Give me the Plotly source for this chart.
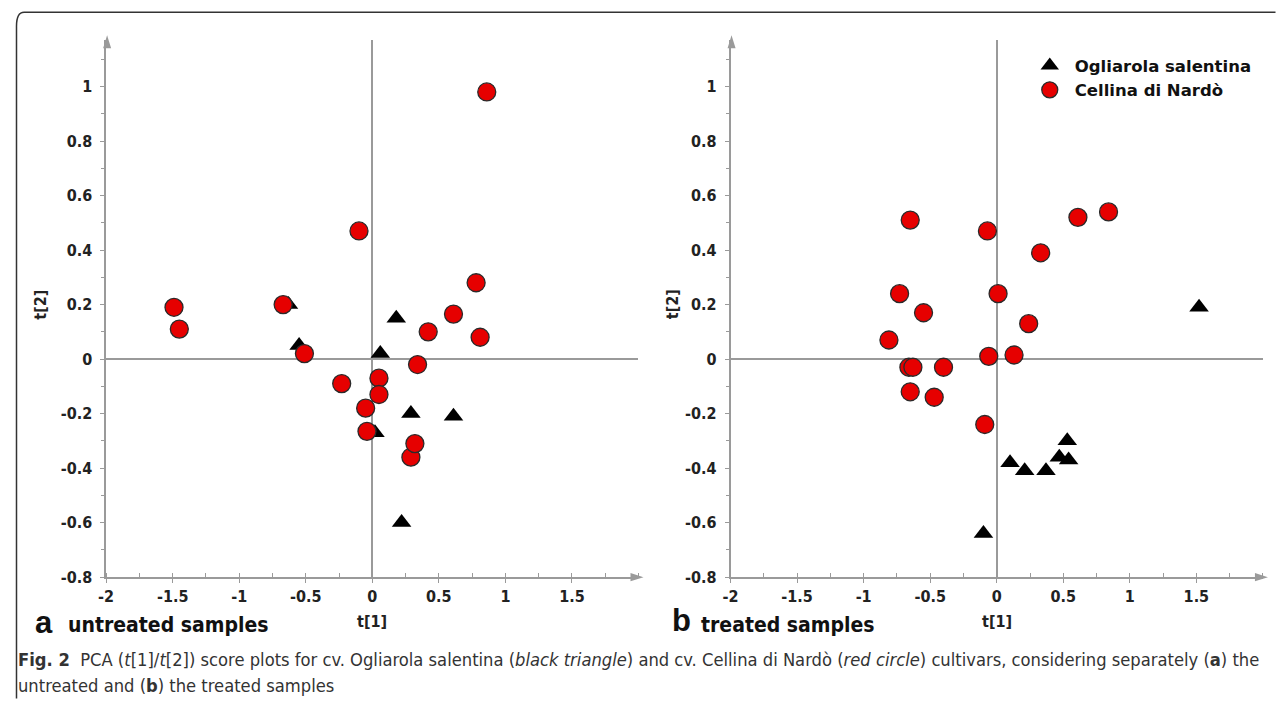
import plotly.graph_objects as go

# ---------------- data ----------------
untreated_ogl_x = [-0.55, -0.63, 0.18, 0.06, 0.02, 0.29, 0.61, 0.22]
untreated_ogl_y = [0.05, 0.20, 0.15, 0.02, -0.27, -0.20, -0.21, -0.60]
untreated_cel_x = [-1.49, -1.45, -0.67, -0.51, -0.23, -0.10, -0.05, -0.04, 0.05, 0.05,
                   0.29, 0.32, 0.34, 0.42, 0.61, 0.78, 0.81, 0.86]
untreated_cel_y = [0.19, 0.11, 0.20, 0.02, -0.09, 0.47, -0.18, -0.265, -0.07, -0.13,
                   -0.36, -0.31, -0.02, 0.10, 0.165, 0.28, 0.08, 0.98]

treated_ogl_x = [1.52, 0.10, 0.21, 0.37, 0.47, 0.54, 0.53, -0.10]
treated_ogl_y = [0.19, -0.38, -0.41, -0.41, -0.36, -0.37, -0.30, -0.64]
treated_cel_x = [-0.65, -0.07, 0.61, 0.84, 0.33, -0.73, 0.01, -0.55, 0.24, -0.81,
                 -0.06, 0.13, -0.66, -0.63, -0.40, -0.65, -0.47, -0.09]
treated_cel_y = [0.51, 0.47, 0.52, 0.54, 0.39, 0.24, 0.24, 0.17, 0.13, 0.07,
                 0.01, 0.015, -0.03, -0.03, -0.03, -0.12, -0.14, -0.24]

x_ticks = [-2, -1.5, -1, -0.5, 0, 0.5, 1, 1.5]
x_labels = ["-2", "-1.5", "-1", "-0.5", "0", "0.5", "1", "1.5"]
y_ticks = [-0.8, -0.6, -0.4, -0.2, 0, 0.2, 0.4, 0.6, 0.8, 1]
y_labels = ["-0.8", "-0.6", "-0.4", "-0.2", "0", "0.2", "0.4", "0.6", "0.8", "1"]

series_names = ["Ogliarola salentina", "Cellina di Nardò"]

# ---------------- style ----------------
OFF = 8                     # default page body margin
W, H = 1268, 701
SX, SY = 0.993, 0.984       # observed screenshot scaling
COND = "DejaVu Sans Condensed, Liberation Sans Narrow, sans-serif"
AX_GREY = "#9a9a9a"
RED = "#e60000"


def px(x, y):
    """target screen pixel -> paper coordinate (clamped inside the figure)"""
    fx = (x - 8) / SX - OFF
    fy = y / SY - OFF
    fx = min(max(fx, 0.5), W - 0.5)
    fy = min(max(fy, 0.5), H - 0.5)
    return fx / W, 1 - fy / H


fig = go.Figure()

panels = [
    ("x", "y", untreated_ogl_x, untreated_ogl_y, untreated_cel_x, untreated_cel_y, False),
    ("x2", "y2", treated_ogl_x, treated_ogl_y, treated_cel_x, treated_cel_y, True),
]
for xa, ya, ox, oy, cx, cy, show in panels:
    fig.add_trace(go.Scatter(
        x=ox, y=oy, mode="markers", name=series_names[0], xaxis=xa, yaxis=ya,
        legendgroup="o", showlegend=show,
        marker=dict(symbol="triangle-up", size=17, color="black", line=dict(width=0)),
    ))
    fig.add_trace(go.Scatter(
        x=cx, y=cy, mode="markers", name=series_names[1], xaxis=xa, yaxis=ya,
        legendgroup="c", showlegend=show,
        marker=dict(symbol="circle", size=18, color=RED, line=dict(width=1.3, color="#2a2a2a")),
    ))

tickfont = dict(family=COND, size=16, color="#222", weight="bold")
x_common = dict(
    range=[-2, 2], tickvals=x_ticks, ticktext=x_labels, showgrid=False,
    zeroline=True, zerolinecolor=AX_GREY, zerolinewidth=1.5,
    showline=True, linecolor=AX_GREY, linewidth=1.5,
    ticks="outside", ticklen=4, tickcolor=AX_GREY, tickwidth=1,
    minor=dict(dtick=0.25, tick0=0, ticks="inside", ticklen=4, tickcolor=AX_GREY),
    tickfont=tickfont, ticklabelstandoff=0,
)
y_common = dict(
    range=[-0.8, 1.17], tickvals=y_ticks, ticktext=y_labels, showgrid=False,
    zeroline=True, zerolinecolor=AX_GREY, zerolinewidth=1.5,
    showline=True, linecolor=AX_GREY, linewidth=1.5,
    ticks="outside", ticklen=4, tickcolor=AX_GREY, tickwidth=1,
    minor=dict(dtick=0.1, tick0=0, ticks="outside", ticklen=3, tickcolor=AX_GREY),
    tickfont=tickfont, ticklabelstandoff=5,
)

x0l, x1l = px(106, 0)[0], px(638, 0)[0]
x0r, x1r = px(730, 0)[0], px(1262, 0)[0]
ydom = [px(0, 576)[1], px(0, 40)[1]]
lx, ly = px(1024, 48)
fig.update_layout(
    width=W, height=H, margin=dict(l=0, r=0, t=0, b=0),
    paper_bgcolor="white", plot_bgcolor="white",
    xaxis=dict(domain=[x0l, x1l], anchor="y", **x_common),
    yaxis=dict(domain=ydom, anchor="x", **y_common),
    xaxis2=dict(domain=[x0r, x1r], anchor="y2", **x_common),
    yaxis2=dict(domain=ydom, anchor="x2", **y_common),
    legend=dict(x=lx, y=ly, xanchor="left", yanchor="top", itemwidth=40,
                bgcolor="rgba(0,0,0,0)", tracegroupgap=0, itemsizing="trace",
                font=dict(family="DejaVu Sans, sans-serif", size=16.5, color="#111", weight="bold")),
    showlegend=True,
)

shapes = []
# axis arrowheads
for (tx, ty) in [(643, 576), (1267, 576)]:
    a = px(tx, ty); b = px(tx - 13, ty - 4); c = px(tx - 13, ty + 4)
    shapes.append(dict(type="path", xref="paper", yref="paper",
                       path=f"M {a[0]},{a[1]} L {b[0]},{b[1]} L {c[0]},{c[1]} Z",
                       fillcolor=AX_GREY, line=dict(width=0)))
for (tx, ty) in [(107, 35), (731, 35)]:
    a = px(tx, ty); b = px(tx - 4, ty + 13); c = px(tx + 4, ty + 13)
    shapes.append(dict(type="path", xref="paper", yref="paper",
                       path=f"M {a[0]},{a[1]} L {b[0]},{b[1]} L {c[0]},{c[1]} Z",
                       fillcolor=AX_GREY, line=dict(width=0)))
# outer rounded frame (kept inside the figure)
p1 = px(10, 720); p2 = px(10, 26); p3 = px(10, 12); p4 = px(24, 12); p5 = px(1300, 12)
shapes.append(dict(type="path", xref="paper", yref="paper",
                   path=f"M {p1[0]},{p1[1]} L {p2[0]},{p2[1]} Q {p3[0]},{p3[1]} {p4[0]},{p4[1]} L {p5[0]},{p5[1]}",
                   line=dict(color="#333", width=1.5)))
fig.update_layout(shapes=shapes)


def note(x, y, text, font, xanchor="left", angle=0):
    ax, ay = px(x, y)
    return dict(x=ax, y=ay, xref="paper", yref="paper", xanchor=xanchor, yanchor="middle",
                text=text, showarrow=False, font=font, textangle=angle)


title_font = dict(family=COND, size=16, color="#222", weight="bold")
ann = [
    note(372, 620, "t[1]", title_font, "center"),
    note(996, 620, "t[1]", title_font, "center"),
    note(41, 304, "t[2]", title_font, "center", -90),
    note(672, 304, "t[2]", title_font, "center", -90),
    note(33, 621, "a", dict(family="Liberation Sans, Arial", size=31, color="#111", weight="bold")),
    note(66, 624, "untreated samples", dict(family=COND, size=21, color="#111", weight="bold")),
    note(669, 619, "b", dict(family="Liberation Sans, Arial", size=31, color="#111", weight="bold")),
    note(698, 624, "treated samples", dict(family=COND, size=21, color="#111", weight="bold")),
    note(16, 658,
         "<b>Fig. 2</b>  PCA (<i>t</i>[1]/<i>t</i>[2]) score plots for cv. Ogliarola salentina (<i>black triangle</i>) "
         "and cv. Cellina di Nardò (<i>red circle</i>) cultivars, considering separately (<b>a</b>) the",
         dict(family=COND, size=18.2, color="#333")),
    note(16, 684, "untreated and (<b>b</b>) the treated samples",
         dict(family=COND, size=18.2, color="#333")),
]
fig.update_layout(annotations=ann)

fig.write_html("out.html")
